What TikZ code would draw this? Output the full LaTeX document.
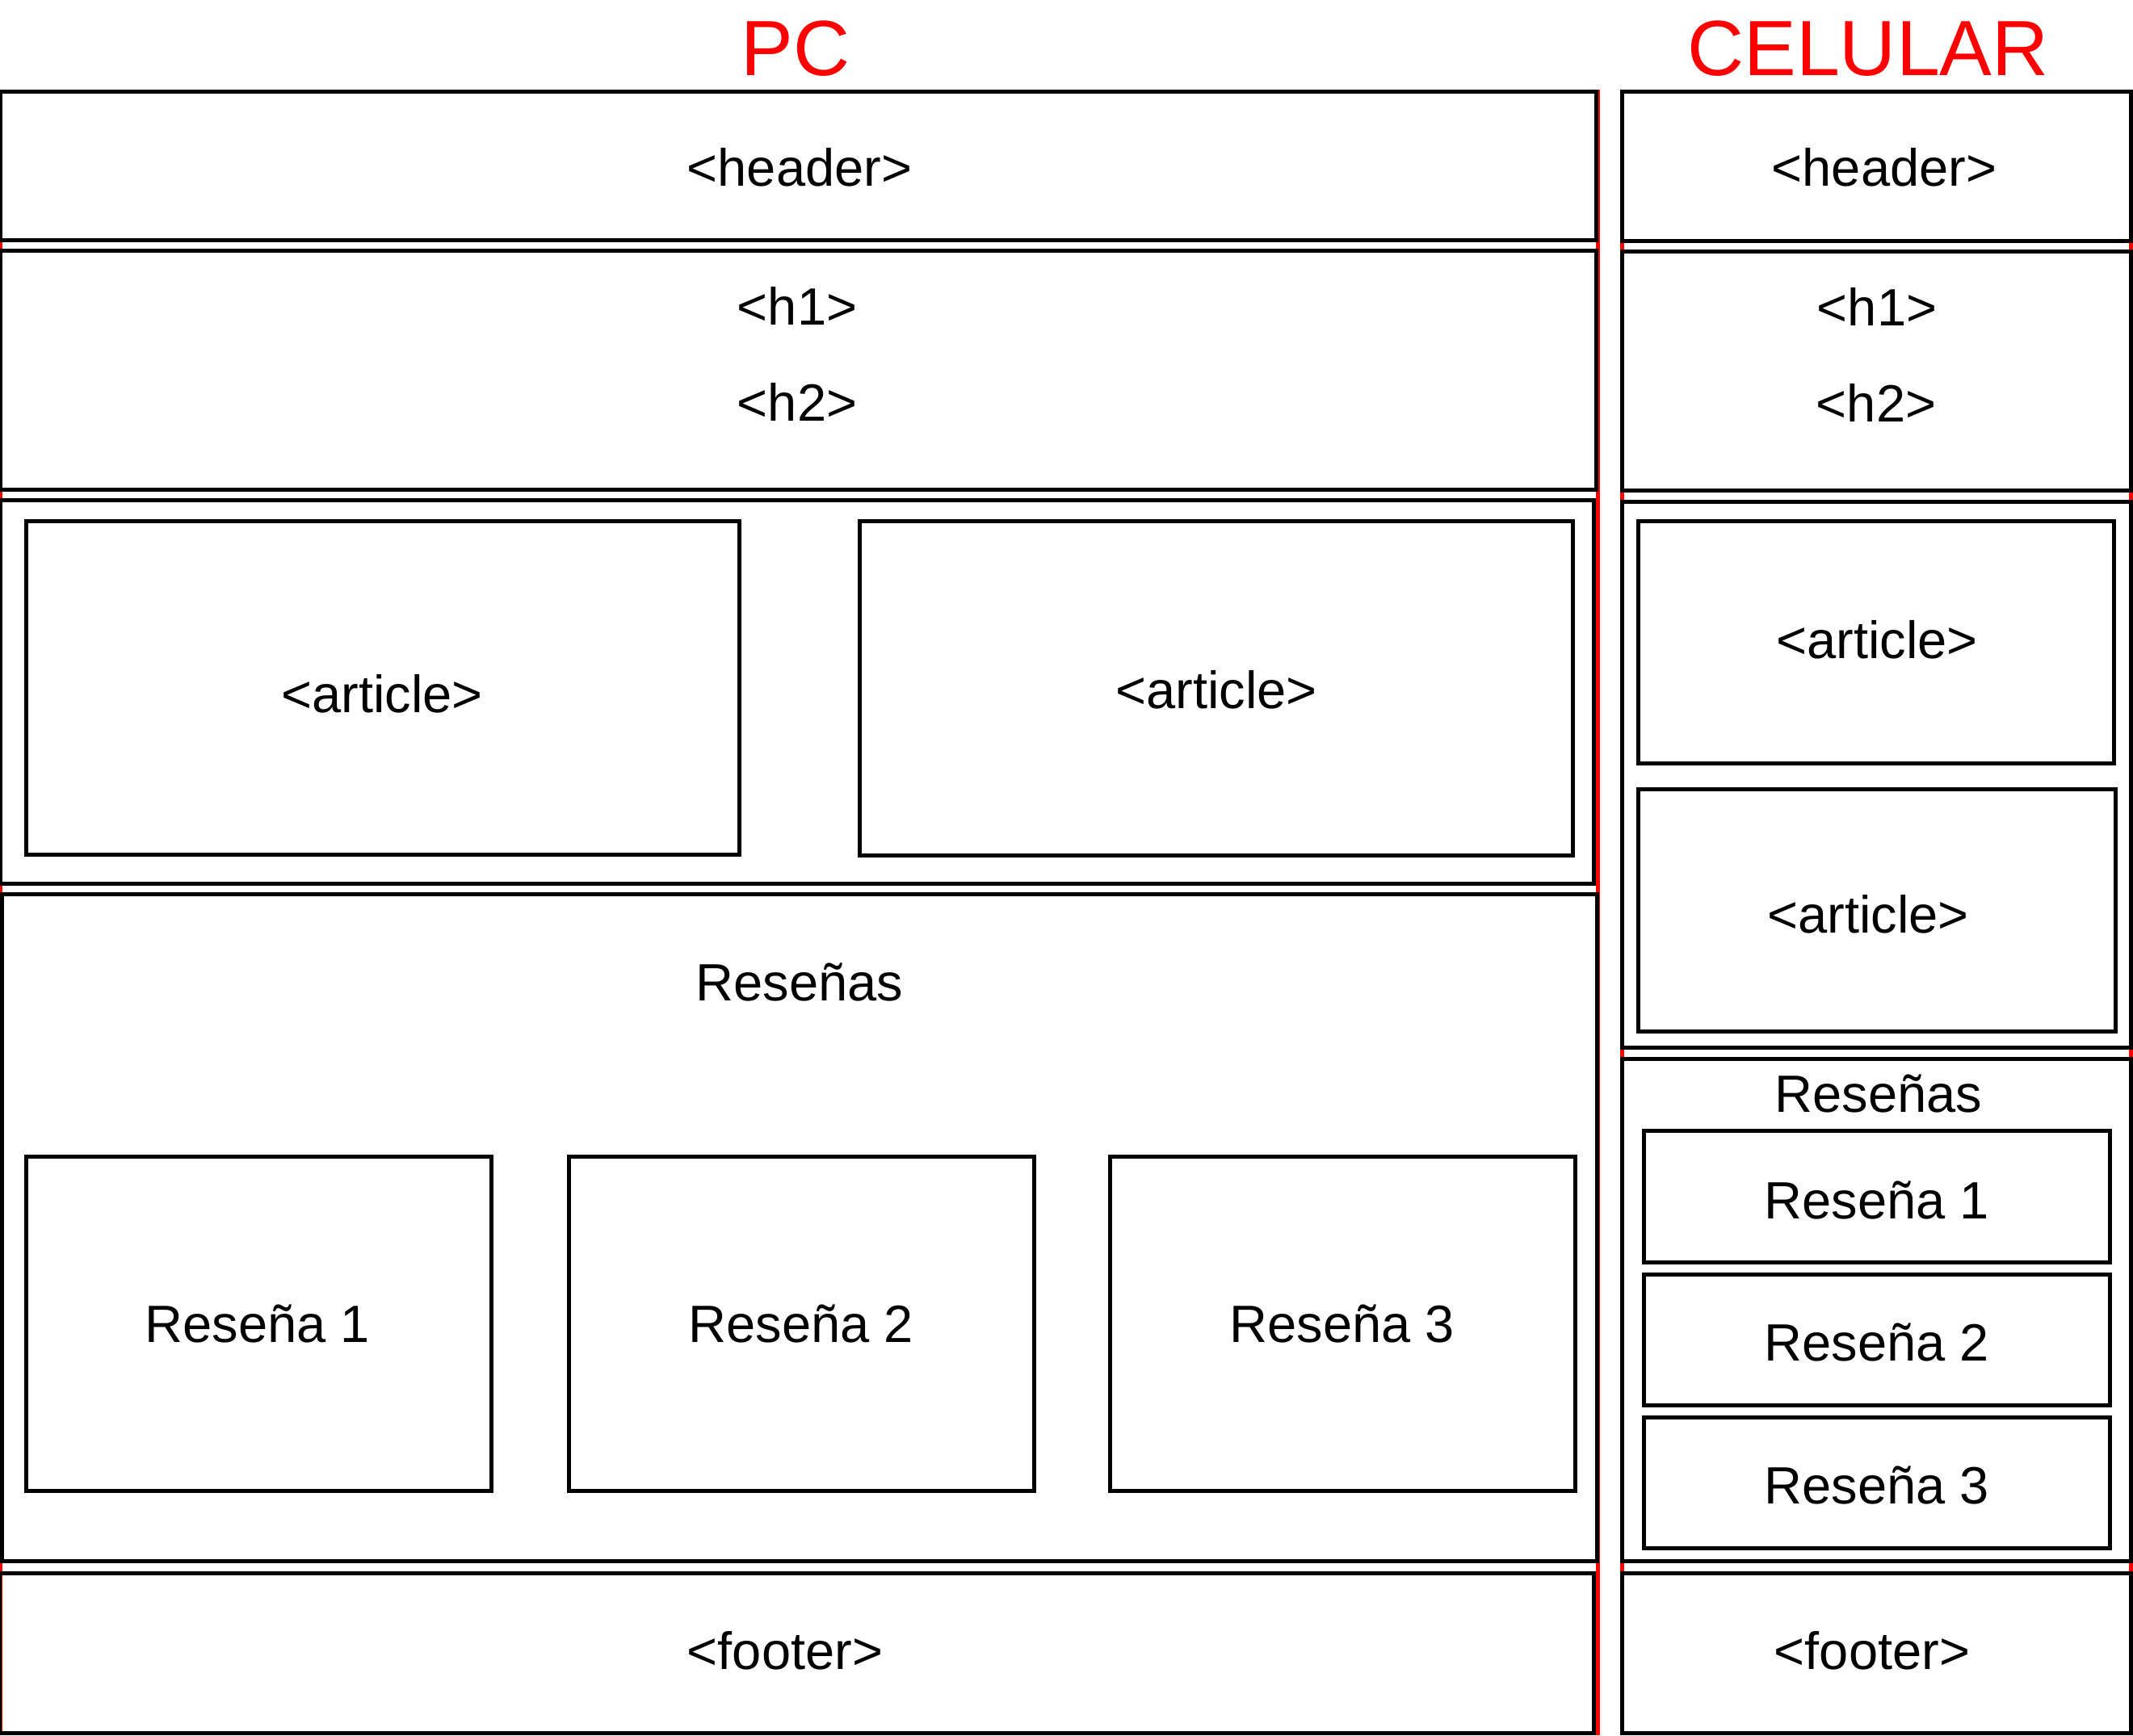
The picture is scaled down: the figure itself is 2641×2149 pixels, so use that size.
\documentclass[tikz,border=0pt]{standalone}
\usepackage{fontspec}
\setmainfont{Liberation Sans}
\begin{document}
\begin{tikzpicture}[x=1pt,y=-1pt,
  box/.style={draw=black,line width=5pt},
  redframe/.style={draw=red,line width=5pt},
  lbl/.style={anchor=base,inner sep=0pt,font=\fontsize{65}{72}\selectfont},
  ttl/.style={anchor=base,inner sep=0pt,text=red,font=\fontsize{97}{110}\selectfont}]
\useasboundingbox (0,0) rectangle (2641,2149);
% red frames
\draw[redframe] (0.5,113.5) rectangle (1978,2146.5);
\draw[redframe] (2008.5,113.5) rectangle (2638.5,2146.5);
% titles
\node[ttl] (tpc) at (985,93) {PC};
\node[ttl] (tcel) at (2313,93) {CELULAR};
% ---------- PC ----------
\draw[box] (0.5,113.5) rectangle (1976.5,297);
\node[lbl] (pchead) at (990,230) {<header>};
\draw[box] (0.5,310.5) rectangle (1976.5,606.5);
\node[lbl] (pch1) at (987,402) {<h1>};
\node[lbl] (pch2) at (987,521) {<h2>};
\draw[box] (0.5,619.5) rectangle (1973.5,1094.5);
\draw[box] (32,645) rectangle (915,1058);
\node[lbl] (pcart1) at (473,882) {<article>};
\draw[box] (1064,645) rectangle (1947.5,1059.5);
\node[lbl] (pcart2) at (1506,877) {<article>};
\draw[box] (2.5,1107) rectangle (1977,1933.5);
\node[lbl] (pcres) at (990,1239) {Reseñas};
\draw[box] (32,1432) rectangle (608,1846);
\node[lbl] (pcr1) at (319,1662) {Reseña 1};
\draw[box] (704,1432) rectangle (1280,1846);
\node[lbl] (pcr2) at (992,1662) {Reseña 2};
\draw[box] (1374,1432) rectangle (1950,1846);
\node[lbl] (pcr3) at (1662,1662) {Reseña 3};
\draw[box] (-1,1948.5) rectangle (1973.5,2146.5);
\node[lbl] (pcfoot) at (972,2067) {<footer>};
% ---------- CELULAR ----------
\draw[box] (2008.5,113.5) rectangle (2638.5,298);
\node[lbl] (cehead) at (2333,230) {<header>};
\draw[box] (2008.5,311.5) rectangle (2638.5,607.5);
\node[lbl] (ceh1) at (2324,403) {<h1>};
\node[lbl] (ceh2) at (2323,522) {<h2>};
\draw[box] (2008.5,621) rectangle (2638.5,1297);
\draw[box] (2028,645) rectangle (2617,945);
\node[lbl] (ceart1) at (2324,815) {<article>};
\draw[box] (2028,977) rectangle (2619,1277.5);
\node[lbl] (ceart2) at (2313,1155) {<article>};
\draw[box] (2008.5,1311) rectangle (2638.5,1933.5);
\node[lbl] (ceres) at (2326,1377) {Reseñas};
\draw[box] (2035,1400) rectangle (2612,1563);
\node[lbl] (cer1) at (2324,1509) {Reseña 1};
\draw[box] (2035,1578) rectangle (2612,1740);
\node[lbl] (cer2) at (2324,1685) {Reseña 2};
\draw[box] (2035,1755) rectangle (2612,1917.5);
\node[lbl] (cer3) at (2324,1862) {Reseña 3};
\draw[box] (2008.5,1948.5) rectangle (2638.5,2146.5);
\node[lbl] (cefoot) at (2318,2067) {<footer>};
\end{tikzpicture}
\end{document}
